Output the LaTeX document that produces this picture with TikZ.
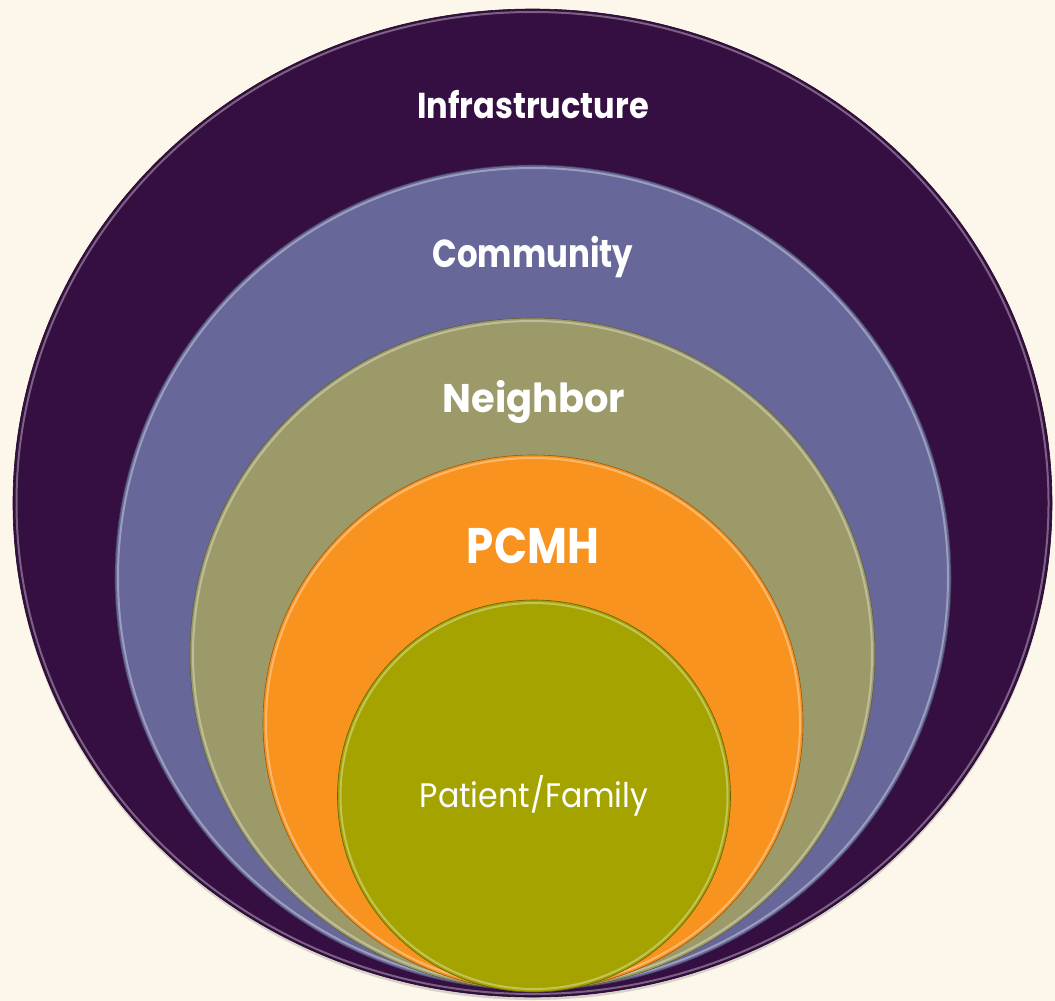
\documentclass[tikz,border=0pt]{standalone}
\usepackage{fontspec}
\setmainfont{Poppins}
\usetikzlibrary{shapes.geometric,shadows}
\definecolor{bgcream}{RGB}{253,246,235}
\definecolor{cinfra}{RGB}{53,14,66}
\definecolor{ccomm}{RGB}{103,103,154}
\definecolor{cneigh}{RGB}{155,154,104}
\definecolor{cpcmh}{RGB}{247,147,30}
\definecolor{cpat}{RGB}{164,163,0}
\tikzset{
  ring/.style={ellipse, inner sep=0pt, draw=#1!60!black, line width=0.6pt},
  gloss/.style={draw=white, opacity=0.35, line width=2pt},
  lbl/.style={text=white, font=\bfseries, inner sep=0pt, anchor=base},
}
\begin{document}
\begin{tikzpicture}[x=1pt,y=-1pt]
\fill[bgcream] (0,0) rectangle (1055,1001);
\useasboundingbox (0,0) rectangle (1055,1001);
% outer
\node[ring=cinfra, fill=cinfra, minimum width=1039pt, minimum height=988pt,
  drop shadow={opacity=0.3, shadow xshift=0pt, shadow yshift=-3pt}] (infra) at (532.5,503) {};
\draw[gloss] (infra.center) ellipse [x radius=516, y radius=491];
% community
\node[ring=ccomm, fill=ccomm, minimum width=836pt, minimum height=825pt] (comm) at (533,577.5) {};
\draw[gloss] (comm.center) ellipse [x radius=415, y radius=409.5];
% neighbor
\node[ring=cneigh, fill=cneigh, minimum width=685pt, minimum height=672pt] (neigh) at (532.5,654) {};
\draw[gloss] (neigh.center) ellipse [x radius=339.5, y radius=333];
% pcmh
\node[ring=cpcmh, fill=cpcmh, minimum width=540pt, minimum height=535pt] (pcmh) at (533,722.5) {};
\draw[gloss] (pcmh.center) ellipse [x radius=267, y radius=264.5];
% patient
\node[ring=cpat, fill=cpat, minimum width=393pt, minimum height=392pt] (pat) at (534,796) {};
\draw[gloss] (pat.center) ellipse [x radius=193.5, y radius=193];
% labels
\node[lbl, font=\bfseries\fontsize{36}{40}\selectfont] (tinfra) at (533,118) {\scalebox{0.89}[1]{Infrastructure}};
\node[lbl, font=\bfseries\fontsize{39}{44}\selectfont] (tcomm) at (533,267) {\scalebox{0.83}[1]{Community}};
\node[lbl, font=\bfseries\fontsize{40}{44}\selectfont] (tneigh) at (534,412) {\scalebox{0.96}[1]{Neighbor}};
\node[lbl, font=\bfseries\fontsize{50}{54}\selectfont] (tpcmh) at (533,563) {\scalebox{0.87}[1]{PCMH}};
\node[lbl, font=\fontsize{34}{38}\selectfont] (tpat) at (534,807) {\scalebox{0.93}[1]{Patient/Family}};
\end{tikzpicture}
\end{document}
